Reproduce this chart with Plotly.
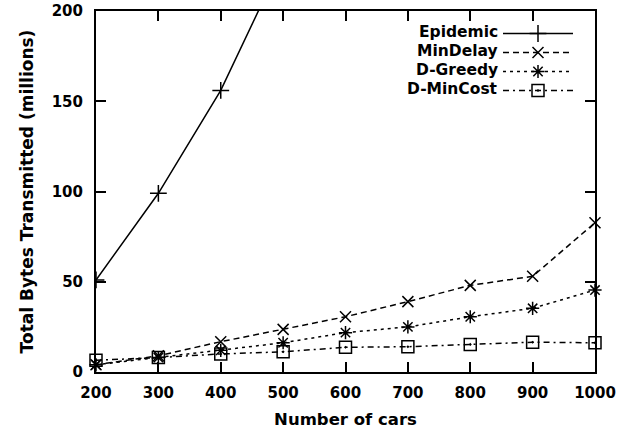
import plotly.graph_objects as go

cars = [200, 300, 400, 500, 600, 700, 800, 900, 1000]
epidemic_x = [200, 300, 400, 500]
epidemic = [51, 99, 156, 229]
min_delay = [4, 9, 16.8, 23.6, 30.6, 39, 48, 53, 82.7]
d_greedy = [4, 8, 12, 16.2, 21.8, 25, 30.6, 35.3, 45.4]
d_mincost = [6.5, 8, 10, 11.2, 13.7, 14, 15.3, 16.5, 16.2]

names = ["Epidemic", "MinDelay", "D-Greedy", "D-MinCost"]
x_ticks = [200, 300, 400, 500, 600, 700, 800, 900, 1000]
y_ticks = [0, 50, 100, 150, 200]

FONT = "DejaVu Sans"
black = "#000000"

L, R, T, B = 96, 24, 11, 65
W, H = 619, 437
PW, PH = W - L - R, H - T - B

fig = go.Figure()
fig.add_trace(go.Scatter(
    x=epidemic_x, y=epidemic, mode="lines+markers", name="\u00a0",
    line=dict(color=black, width=1.5),
    marker=dict(symbol="cross-thin", size=12, line=dict(color=black, width=1.5)),
    cliponaxis=True))
fig.add_trace(go.Scatter(
    x=cars, y=min_delay, mode="lines+markers", name="\u00a0",
    line=dict(color=black, width=1.5, dash="6px,4px"),
    marker=dict(symbol="x-thin", size=11, line=dict(color=black, width=1.5)),
    cliponaxis=False))
fig.add_trace(go.Scatter(
    x=cars, y=d_greedy, mode="lines+markers", name="\u00a0",
    line=dict(color=black, width=1.5, dash="3px,4px"),
    marker=dict(symbol="asterisk-open", size=11, line=dict(color=black, width=1.5)),
    cliponaxis=False))
fig.add_trace(go.Scatter(
    x=cars, y=d_mincost, mode="lines+markers", name="\u00a0",
    line=dict(color=black, width=1.5, dash="6px,4px,2px,4px"),
    marker=dict(symbol="square-open-dot", size=12, line=dict(color=black, width=1.5)),
    cliponaxis=False))

# legend labels (right-aligned, gnuplot style)
row_y = [32, 51, 70, 89]
for nm, yy in zip(names, row_y):
    fig.add_annotation(
        text=nm, xref="paper", yref="paper",
        x=(500 - L) / PW, y=(H - B - yy) / PH,
        xanchor="right", yanchor="middle", showarrow=False,
        font=dict(family=FONT, size=15.5, color=black, weight="bold"))

axis_common = dict(
    showgrid=False, zeroline=False, showline=True, linecolor=black, linewidth=2,
    mirror="allticks", ticks="inside", ticklen=10, tickwidth=1.5, tickcolor=black,
    tickfont=dict(family=FONT, size=15, color=black, weight="bold"),
    automargin=False,
)

fig.update_layout(
    width=W, height=H,
    margin=dict(l=L, r=R, t=T, b=B),
    plot_bgcolor="white", paper_bgcolor="white",
    showlegend=True,
    legend=dict(x=(498 - L) / PW, y=(H - B - 19) / PH, xanchor="left", yanchor="top",
                bgcolor="rgba(0,0,0,0)", font=dict(family=FONT, size=11, color=black),
                itemwidth=70, tracegroupgap=0),
    xaxis=dict(range=[200, 1000], tickvals=x_ticks, ticklabelstandoff=6,
               title=dict(text="Number of cars", standoff=12,
                          font=dict(family=FONT, size=16.5, color=black, weight="bold")),
               **axis_common),
    yaxis=dict(range=[0, 200], tickvals=y_ticks, ticklabelstandoff=8,
               title=dict(text="Total Bytes Transmitted (millions)", standoff=14,
                          font=dict(family=FONT, size=17, color=black, weight="bold")),
               **axis_common),
)

fig.write_html("out.html", config={"displayModeBar": False},
               post_script="document.body.style.margin='0px';")
